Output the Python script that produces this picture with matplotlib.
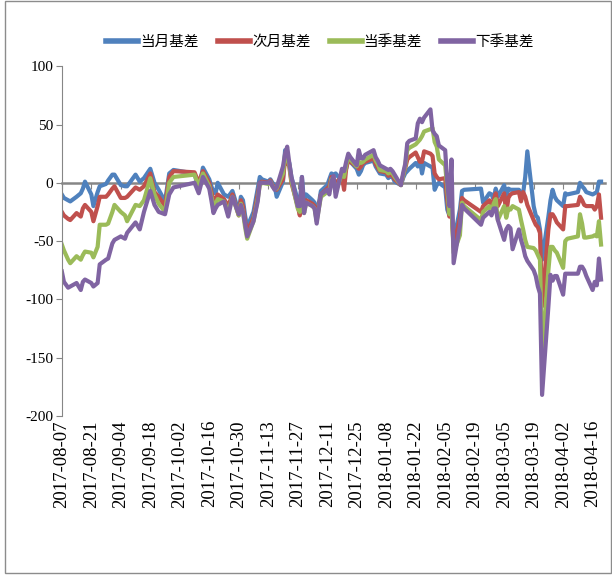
import matplotlib
matplotlib.use("Agg")
import matplotlib.pyplot as plt
from matplotlib.patches import Rectangle
import pandas as pd

# 基差数据
dates = [
    "2017-08-07", "2017-08-08", "2017-08-10", "2017-08-11", "2017-08-14", "2017-08-16",
    "2017-08-17", "2017-08-18", "2017-08-21", "2017-08-22", "2017-08-24", "2017-08-25",
    "2017-08-28", "2017-08-29", "2017-08-31", "2017-09-01", "2017-09-04", "2017-09-06",
    "2017-09-07", "2017-09-11", "2017-09-13", "2017-09-15", "2017-09-18", "2017-09-20",
    "2017-09-22", "2017-09-25", "2017-09-27", "2017-09-29", "2017-10-09", "2017-10-11",
    "2017-10-13", "2017-10-16", "2017-10-17", "2017-10-18", "2017-10-19", "2017-10-20",
    "2017-10-23", "2017-10-25", "2017-10-27", "2017-10-30", "2017-10-31", "2017-11-01",
    "2017-11-02", "2017-11-03", "2017-11-06", "2017-11-08", "2017-11-09", "2017-11-10",
    "2017-11-13", "2017-11-14", "2017-11-15", "2017-11-16", "2017-11-17", "2017-11-20",
    "2017-11-21", "2017-11-22", "2017-11-23", "2017-11-24", "2017-11-27", "2017-11-28",
    "2017-11-29", "2017-11-30", "2017-12-01", "2017-12-04", "2017-12-05", "2017-12-06",
    "2017-12-08", "2017-12-11", "2017-12-12", "2017-12-13", "2017-12-14", "2017-12-15",
    "2017-12-18", "2017-12-19", "2017-12-20", "2017-12-21", "2017-12-22", "2017-12-25",
    "2017-12-26", "2017-12-27", "2017-12-28", "2017-12-29", "2018-01-02", "2018-01-03",
    "2018-01-04", "2018-01-05", "2018-01-08", "2018-01-09", "2018-01-10", "2018-01-11",
    "2018-01-12", "2018-01-15", "2018-01-16", "2018-01-17", "2018-01-18", "2018-01-19",
    "2018-01-22", "2018-01-23", "2018-01-24", "2018-01-25", "2018-01-26", "2018-01-29",
    "2018-01-30", "2018-01-31", "2018-02-01", "2018-02-02", "2018-02-05", "2018-02-06",
    "2018-02-07", "2018-02-08", "2018-02-09", "2018-02-12", "2018-02-13", "2018-02-14",
    "2018-02-22", "2018-02-23", "2018-02-26", "2018-02-27", "2018-02-28", "2018-03-01",
    "2018-03-02", "2018-03-05", "2018-03-06", "2018-03-07", "2018-03-08", "2018-03-09",
    "2018-03-12", "2018-03-13", "2018-03-14", "2018-03-15", "2018-03-16", "2018-03-19",
    "2018-03-20", "2018-03-21", "2018-03-22", "2018-03-23", "2018-03-26", "2018-03-27",
    "2018-03-28", "2018-03-29", "2018-03-30", "2018-04-02", "2018-04-03", "2018-04-04",
    "2018-04-09", "2018-04-10", "2018-04-11", "2018-04-12", "2018-04-13", "2018-04-16",
    "2018-04-17", "2018-04-18", "2018-04-19", "2018-04-20",
]

dangyue = [
    -10, -13, -15, -16, -12, -9, -5, 1, -10, -20, -8, -3,
    -1, 2, 7, 7, -2, -3, -3, 7, 1, 4, 12, 0,
    -6, -16, 8, 11, 8, -6, 13, 3, -3, -8, -9, 0,
    -10, -12, -7, -25, -12, -15, -28, -38, -25, -5, 5, 3,
    1, 3, 0, -2, -12, 1, 28, 20, 17, 5, -15, -20,
    5, -17, -10, -15, -17, -29, -7, -2, 3, 8, 7, 8,
    1, 10, 12, 21, 18, 12, 7, 10, 15, 17, 19, 14,
    11, 8, 7, 4, 6, 5, 1, -2, 4, 8, 10, 12,
    17, 14, 20, 8, 17, 14, 13, -6, -2, 0, -4, -23,
    -28, -18, -50, -23, -7, -6,
    -5, -17, -9, -10, -14, -5, -12, -2, -12, -5, -6, -6,
    -6, -9, -9, 5, 27, -20, -28, -30, -40, -66, -29, -15,
    -6, -12, -15, -20, -9, -10, -8, 0, -3, -5, -8, -10,
    -9, -8, 1, 1,
]

ciyue = [
    -25, -28, -31, -32, -26, -29, -22, -19, -25, -33, -20, -12,
    -12, -10, -5, -3, -13, -13, -12, -4, -6, -3, 8, -8,
    -12, -20, 5, 10, 9, 0, 10, 0, -8, -15, -14, -10,
    -14, -20, -10, -28, -15, -20, -33, -42, -30, -10, 0, 1,
    0, 2, -2, -4, -6, 3, 20, 18, 14, 0, -20, -28,
    -8, -22, -15, -18, -20, -30, -10, -5, -3, 5, 3, 0,
    5, -6, 12, 20, 18, 14, 12, 14, 17, 18, 21, 16,
    13, 10, 9, 6, 7, 6, 3, -2, 6, 12, 20, 22,
    26, 22, 18, 18, 27, 25, 23, 8, 5, 3, 4, -15,
    -29, -23, -55, -30, -13, -15,
    -25, -20, -15, -20, -15, -9, -20, -9, -27, -13, -10, -9,
    -8, -16, -8, -12, -19, -32, -36, -38, -43, -106, -40, -27,
    -27, -30, -34, -40, -20, -20, -19, -12, -15, -19, -20, -20,
    -23, -20, -10, -30,
]

dangji = [
    -53, -58, -66, -69, -63, -66, -62, -59, -60, -64, -55, -36,
    -36, -35, -25, -19, -25, -28, -33, -19, -20, -15, 4, -10,
    -18, -25, 0, 5, 7, -3, 8, -3, -12, -20, -18, -14,
    -16, -25, -12, -28, -18, -25, -38, -48, -33, -14, -2, 0,
    -1, 1, -3, -5, -5, 8, 24, 22, 15, 2, -22, -25,
    -5, -26, -17, -20, -22, -33, -12, -8, -7, 3, 2, -8,
    8, 5, 15, 22, 20, 14, 18, 17, 18, 20, 24, 19,
    16, 11, 10, 8, 9, 8, 5, -2, 6, 14, 28, 30,
    33, 35, 37, 40, 44, 46, 47, 35, 31, 20, 15, -5,
    -27, -20, -60, -45, -17, -20,
    -32, -25, -20, -25, -18, -14, -32, -20, -30, -22, -23, -20,
    -23, -32, -40, -49, -55, -56, -58, -62, -66, -148, -75, -55,
    -55, -58, -60, -73, -50, -48, -46, -27, -35, -47, -47, -46,
    -45, -46, -33, -53,
]

xiaji = [
    -76, -85, -90, -89, -86, -92, -85, -83, -86, -89, -86, -70,
    -66, -65, -52, -49, -46, -48, -43, -34, -40, -25, -7, -19,
    -25, -27, -10, -4, 0, -9, 5, -5, -15, -26, -22, -19,
    -16, -29, -12, -27, -19, -25, -35, -46, -33, -16, 0, 0,
    0, 1, -3, -6, -4, 14, 25, 31, 17, 5, -20, -20,
    5, -26, -17, -20, -22, -35, -10, -6, -10, 1, 6, -12,
    12, 10, 18, 25, 22, 15, 28, 21, 21, 24, 28, 22,
    19, 15, 12, 11, 12, 10, 7, -2, 8, 16, 34, 36,
    38, 51, 55, 52, 56, 63, 45, 42, 40, 32, 28, 0,
    -20, 20, -69, -37, -19, -22,
    -36, -30, -25, -28, -22, -22, -32, -49, -40, -37, -39, -57,
    -40, -49, -55, -63, -67, -75, -80, -89, -95, -182, -106, -79,
    -84, -80, -80, -96, -78, -78, -78, -72, -72, -75, -80, -92,
    -85, -88, -65, -83,
]

series_names = ["当月基差", "次月基差", "当季基差", "下季基差"]
series_colors = ["#4F81BD", "#C0504D", "#9BBB59", "#8064A2"]

tick_start = "2017-08-07"
tick_end = "2018-04-16"

plt.rcParams['font.family'] = ['Liberation Serif', 'Noto Sans CJK SC']
plt.rcParams['axes.unicode_minus'] = False

x = pd.to_datetime(dates)

fig = plt.figure(figsize=(6.12, 5.76), dpi=100)
ax = fig.add_axes([0.101, 0.278, 0.888, 0.607])

for vals, name, col in zip([dangyue, ciyue, dangji, xiaji], series_names, series_colors):
    ax.plot(x, vals, color=col, lw=3, label=name, solid_joinstyle='round')

ax.set_ylim(-200, 100)
ax.set_yticks(range(-200, 101, 50))
ax.set_xlim(pd.Timestamp("2017-08-07"), pd.Timestamp("2018-04-22"))

ticks = pd.date_range(tick_start, tick_end, freq="14D")
ax.set_xticks(ticks)
ax.set_xticklabels([t.strftime("%Y-%m-%d") for t in ticks], rotation=90, fontsize=13.5)
ax.tick_params(axis='x', length=0, pad=3)
ax.tick_params(axis='y', direction='out', length=4, color='#868686', labelsize=11, pad=2)

for s in ['top', 'right', 'bottom']:
    ax.spines[s].set_visible(False)
ax.spines['left'].set_color('#868686')

# 零轴线 + 刻度
sec = ax.secondary_xaxis(2 / 3)
sec.set_xticks(ticks)
sec.xaxis.set_ticks_position('bottom')
sec.tick_params(axis='x', direction='out', length=4, color='#868686',
                labelbottom=False, labeltop=False)
for s in sec.spines.values():
    s.set_color('#868686')
    s.set_linewidth(1.8)

leg = fig.legend(loc='center', bbox_to_anchor=(0.523, 0.927), ncol=4, frameon=False,
                 prop={'family': 'Noto Sans CJK SC', 'size': 10.5},
                 handlelength=2.2, handletextpad=0.15, columnspacing=1.3)
for h in leg.get_lines():
    h.set_linewidth(4)

fig.patches.append(Rectangle((5 / 612, 3 / 576), 606 / 612, 572 / 576,
                             transform=fig.transFigure, fill=False,
                             edgecolor='#8c8c8c', lw=1))

fig.savefig("out.png", dpi=100)
